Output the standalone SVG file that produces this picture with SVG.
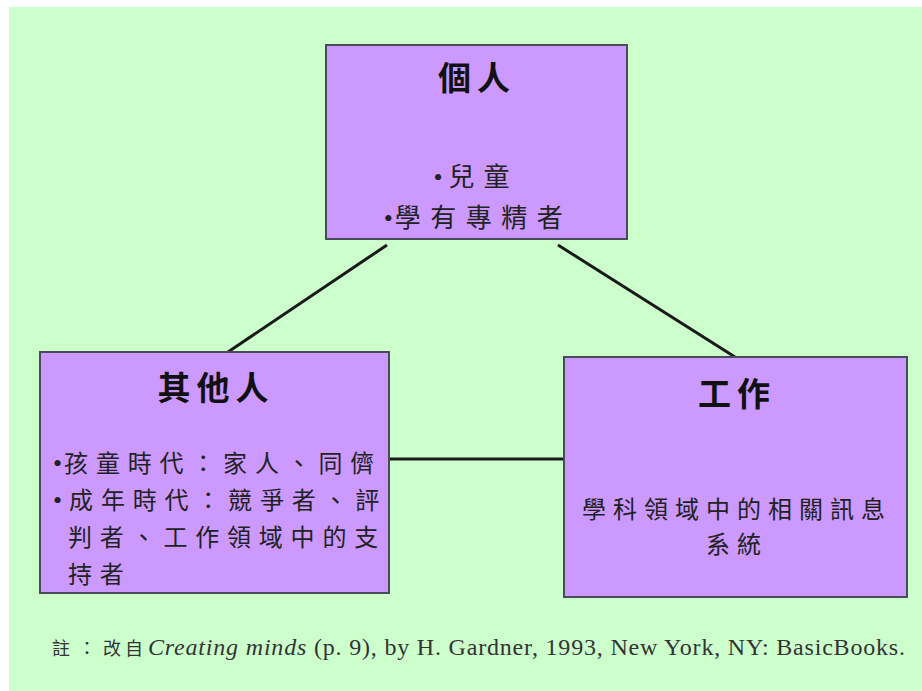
<svg xmlns="http://www.w3.org/2000/svg" width="922" height="691" viewBox="0 0 922 691">
<style>
.box{fill:#CC99FF;stroke:#4a4a5a;stroke-width:2}
.title{font-family:"Noto Sans CJK TC","Noto Sans CJK SC",sans-serif;font-size:33px;font-weight:bold;fill:#111;text-anchor:middle;letter-spacing:6px}
.body{font-family:"Noto Sans CJK TC","Noto Sans CJK SC",sans-serif;font-size:24px;fill:#222}
.bul{font-family:"Liberation Serif",serif;font-size:26px}
.conn{stroke:#1a1a1a;stroke-width:3;fill:none}
.note{font-family:"Liberation Serif","Noto Sans CJK TC",serif;font-size:24px;fill:#333}
.notecjk{font-family:"Noto Sans CJK TC","Noto Sans CJK SC",sans-serif;font-size:18px;fill:#333}
</style>
<rect x="0" y="0" width="922" height="691" fill="#ffffff"/>
<rect x="9" y="7" width="913" height="684" fill="#CCFFCC"/>
<g id="connectors">
<line class="conn" x1="387" y1="245" x2="228" y2="352"/>
<line class="conn" x1="558" y1="245" x2="735" y2="357"/>
<line class="conn" x1="389" y1="459" x2="564" y2="459"/>
</g>
<g id="node-individual">
<rect class="box" x="326" y="45" width="301" height="194"/>
<text class="title" x="477" y="90">個人</text>
<text class="body" x="476" y="186" text-anchor="middle" style="font-size:26px;letter-spacing:9px"><tspan class="bul" style="letter-spacing:6px">•</tspan>兒童</text>
<text class="body" x="478" y="227" text-anchor="middle" style="font-size:26px;letter-spacing:9.5px"><tspan class="bul" style="letter-spacing:2px">•</tspan>學有專精者</text>
</g>
<g id="node-others">
<rect class="box" x="40" y="352" width="349" height="241"/>
<text class="title" x="216" y="400">其他人</text>
<text class="body" x="53" y="472" style="letter-spacing:7.8px"><tspan class="bul" style="letter-spacing:2px">•</tspan>孩童時代：家人、同儕</text>
<text class="body" x="53" y="509" style="letter-spacing:7.8px"><tspan class="bul" style="letter-spacing:7px">•</tspan>成年時代：競爭者、評</text>
<text class="body" x="68" y="546" style="letter-spacing:7.8px">判者、工作領域中的支</text>
<text class="body" x="68" y="583" style="letter-spacing:7.8px">持者</text>
</g>
<g id="node-work">
<rect class="box" x="564" y="357" width="343" height="240"/>
<text class="title" x="737" y="406">工作</text>
<text class="body" x="737" y="518" text-anchor="middle" style="letter-spacing:7px">學科領域中的相關訊息</text>
<text class="body" x="737" y="553" text-anchor="middle" style="letter-spacing:7px">系統</text>
</g>
<g id="footnote">
<text class="notecjk" y="655"><tspan x="52">註</tspan><tspan x="78">：</tspan><tspan x="103">改</tspan><tspan x="125">自</tspan></text>
<text class="note" x="148" y="655" textLength="757" lengthAdjust="spacing"><tspan font-style="italic">Creating minds</tspan> (p. 9), by H. Gardner, 1993, New York, NY:  BasicBooks.</text>
</g>
</svg>
